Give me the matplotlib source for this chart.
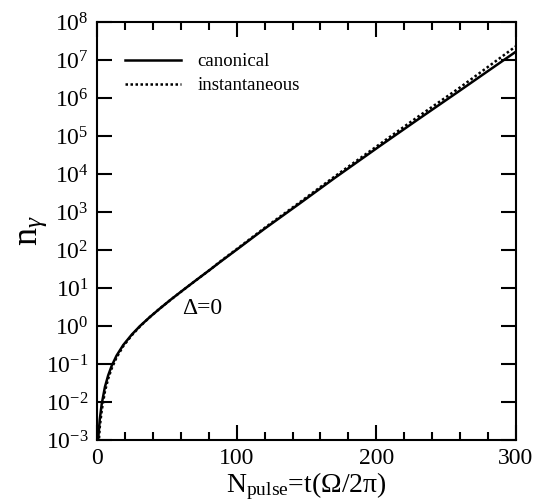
import matplotlib
matplotlib.use("Agg")
import matplotlib.pyplot as plt
from matplotlib.ticker import MultipleLocator, LogLocator, NullLocator

plt.rcParams['font.family'] = ['Liberation Serif', 'DejaVu Serif']
plt.rcParams['mathtext.fontset'] = 'custom'
plt.rcParams['mathtext.rm'] = 'Liberation Serif'
plt.rcParams['mathtext.it'] = 'Liberation Serif:italic'
plt.rcParams['mathtext.bf'] = 'Liberation Serif:bold'

# Data
x_pulse = [0.8, 2, 3.4, 5.7, 8, 10.5, 14, 18.8, 25, 30.8, 38, 45, 53, 61.8, 70,
           80.9, 88, 100, 120, 145, 170, 203, 230, 260, 280, 300]
n_canonical = [1.0e-3, 3.5e-3, 8.9e-3, 2.5e-2, 5.0e-2, 8.9e-2, 0.166, 0.316, 0.60,
               1.0, 1.74, 2.88, 5.0, 8.9, 15.1, 30.2, 47.9, 102, 363, 1660, 7760,
               5.6e4, 2.75e5, 1.58e6, 5.13e6, 1.66e7]
n_instantaneous = [4.5e-4, 2.2e-3, 6.0e-3, 1.9e-2, 4.1e-2, 7.6e-2, 0.148, 0.295, 0.575,
                   0.977, 1.74, 2.88, 5.0, 8.9, 15.1, 30.2, 49, 105, 380, 1780, 8500,
                   6.3e4, 3.24e5, 1.9e6, 6.6e6, 2.3e7]
series_labels = ['canonical', 'instantaneous']
annotation = 'Δ=0'

fig = plt.figure(figsize=(5.43, 5.03), dpi=100)
ax = fig.add_axes([0.1786, 0.1252, 0.7716, 0.8311])

ax.semilogy(x_pulse, n_canonical, color='black', lw=1.8, ls='-', label=series_labels[0])
ax.semilogy(x_pulse, n_instantaneous, color='black', lw=1.8, ls=(0, (1, 1)),
            label=series_labels[1])

ax.set_xlim(0, 300)
ax.set_ylim(1e-3, 1e8)
ax.xaxis.set_major_locator(MultipleLocator(100))
ax.xaxis.set_minor_locator(MultipleLocator(20))
ax.yaxis.set_major_locator(LogLocator(base=10, numticks=20))
ax.yaxis.set_minor_locator(NullLocator())

for s in ax.spines.values():
    s.set_linewidth(1.5)
ax.tick_params(which='both', direction='in', top=True, right=True, width=1.5)
ax.tick_params(which='major', length=11, labelsize=17, pad=6)
ax.tick_params(axis='x', which='minor', length=5.5)

ax.set_xlabel(r'N$_\mathrm{pulse}$=t(Ω/2π)', fontsize=20, labelpad=1)
ax.set_ylabel(r'n$_\gamma$', fontsize=26, labelpad=-2)

ax.text(75.2, 2.95, annotation, fontsize=17, ha='center', va='center')

leg = ax.legend(loc='upper left', bbox_to_anchor=(0.067, 0.925), frameon=False,
                fontsize=13.5, handlelength=3.0, handletextpad=0.85,
                labelspacing=0.35, borderpad=0, borderaxespad=0)

fig.savefig('out.png', dpi=100)
